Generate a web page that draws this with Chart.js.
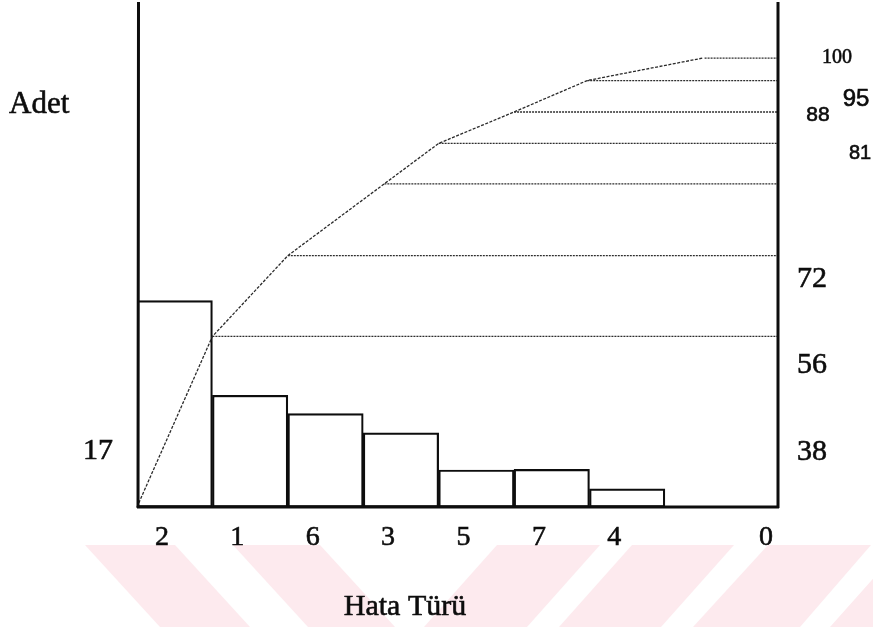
<!DOCTYPE html>
<html>
<head>
<meta charset="utf-8">
<script src="https://cdn.jsdelivr.net/npm/chart.js@4/dist/chart.umd.min.js"></script>
<style>
  html, body { margin: 0; padding: 0; background: #fff; }
  canvas { display: block; }
</style>
</head>
<body>
<canvas id="pareto" width="873" height="627"></canvas>
<script>
// Hata türleri (Pareto sırası) ve adetleri
const categories = ['2', '1', '6', '3', '5', '7', '4', '0'];
const counts = [17, 9.2, 7.7, 6.1, 3.05, 3.1, 1.5, 0];

// Kümülatif yüzde eğrisi: her noktanın konumu (kategori ekseninde) ve değeri
const cumulativeAt = [0, 1, 2, 3.28, 4, 5, 5.97, 7.5];
const cumulativePct = [0, 38, 56, 72, 81, 88, 95, 100];

// Eksen yazıları
const countAxisTitle = 'Adet';
const countAxisLabel = '17';
const categoryAxisTitle = 'Hata Türü';
const pctAxisLabels = ['100', '95', '88', '81', '72', '56', '38'];

// Yazı yerleşimi ve biçimleri
const SERIF = '"Liberation Serif", "Times New Roman", serif';
const SANS = '"Liberation Sans", Arial, sans-serif';
const pctLabelStyle = {
  '100': { x: 837, y: 63,  font: '20px ' + SERIF },
  '95':  { x: 856, y: 106, font: '24px ' + SANS },
  '88':  { x: 818, y: 121, font: '21px ' + SANS },
  '81':  { x: 860, y: 159, font: '20px ' + SANS },
  '72':  { x: 812, y: 287, font: '30px ' + SERIF },
  '56':  { x: 812, y: 373, font: '30px ' + SERIF },
  '38':  { x: 812, y: 460, font: '30px ' + SERIF }
};
const X_MAX = 8.5;
const INK = '#0d0d0d';

// Alt kısımdaki açık pembe çapraz şeritler
const bandTop = 545;
const bands = [
  [[85, 175], [160, 250]],
  [[233, 320], [308, 395]],
  [[497, 600], [424, 527]],
  [[632, 734], [559, 661]],
  [[768, 871], [693, 800]],
  [[903, 973], [830, 900]]
];

const backdrop = {
  id: 'backdrop',
  beforeDraw(chart) {
    const c = chart.ctx;
    c.save();
    c.fillStyle = '#fff';
    c.fillRect(0, 0, chart.width, chart.height);
    c.fillStyle = 'rgb(253, 234, 238)';
    const bottom = chart.height;
    bands.forEach(([top, bot]) => {
      c.beginPath();
      c.moveTo(top[0], bandTop);
      c.lineTo(top[1], bandTop);
      c.lineTo(bot[1], bottom);
      c.lineTo(bot[0], bottom);
      c.closePath();
      c.fill();
    });
    c.restore();
  }
};

// slightly heavy text, like a printed page
function inkText(c, text, x, y) {
  c.fillText(text, x, y);
  c.strokeText(text, x, y);
}

const frame = {
  id: 'frame',
  afterDatasetsDraw(chart) {
    const c = chart.ctx;
    const a = chart.chartArea;
    const meta = chart.getDatasetMeta(0);
    c.save();
    // kümülatif noktalardan sağ eksene yatay kılavuzlar
    c.strokeStyle = '#2e2e2e';
    c.lineWidth = 1.3;
    c.setLineDash([2, 1]);
    meta.data.forEach((pt, i) => {
      if (i === 0) return;
      const gap = i === meta.data.length - 1 ? 2 : 0;
      c.beginPath();
      c.moveTo(pt.x + gap, pt.y);
      c.lineTo(a.right, pt.y);
      c.stroke();
    });
    c.setLineDash([]);
    // eksen çizgileri
    c.strokeStyle = INK;
    c.lineWidth = 3;
    c.beginPath();
    c.moveTo(a.left + 1.5, a.top);
    c.lineTo(a.left + 1, a.bottom + 1);
    c.moveTo(a.right, a.top);
    c.lineTo(a.right, a.bottom + 1);
    c.moveTo(a.left, a.bottom);
    c.lineTo(a.right + 1, a.bottom);
    c.stroke();
    c.restore();
  },
  afterDraw(chart) {
    const c = chart.ctx;
    const a = chart.chartArea;
    const xs = chart.scales.x;
    c.save();
    c.fillStyle = INK;
    c.strokeStyle = INK;
    c.lineWidth = 0.6;
    c.textBaseline = 'alphabetic';

    c.font = '31px ' + SERIF;
    c.textAlign = 'left';
    inkText(c, countAxisTitle, 9, 113);

    c.font = '30px ' + SERIF;
    c.textAlign = 'center';
    inkText(c, countAxisLabel, 98, 459);

    c.font = '28px ' + SERIF;
    categories.forEach((lab, i) => {
      const v = i === categories.length - 1 ? X_MAX - 0.16 : i + 0.33;
      inkText(c, lab, xs.getPixelForValue(v), a.bottom + 38);
    });

    c.font = '30px ' + SERIF;
    inkText(c, categoryAxisTitle, 405, 615);

    pctAxisLabels.forEach(lab => {
      const s = pctLabelStyle[lab];
      c.font = s.font;
      inkText(c, lab, s.x, s.y);
    });
    c.restore();
  }
};

new Chart(document.getElementById('pareto'), {
  type: 'bar',
  data: {
    datasets: [
      {
        type: 'line',
        data: cumulativeAt.map((x, i) => ({ x, y: cumulativePct[i] })),
        xAxisID: 'x',
        yAxisID: 'yPct',
        borderColor: '#2a2a2a',
        borderWidth: 1.3,
        borderDash: [3, 1.5],
        pointRadius: 0,
        tension: 0,
        fill: false,
        clip: false,
        order: 0
      },
      {
        type: 'bar',
        data: counts.map((y, i) => ({ x: i + 0.5, y })),
        xAxisID: 'x',
        yAxisID: 'yCount',
        backgroundColor: '#fff',
        borderColor: INK,
        borderWidth: 2.2,
        borderSkipped: false,
        barPercentage: 1,
        categoryPercentage: 1,
        order: 1
      }
    ]
  },
  options: {
    responsive: false,
    animation: false,
    devicePixelRatio: 1,
    layout: { padding: { left: 137, right: 95, top: 2, bottom: 120 } },
    plugins: { legend: { display: false }, tooltip: { enabled: false } },
    scales: {
      x: {
        type: 'linear', min: 0, max: X_MAX, offset: false, display: false,
        // one tick per category keeps each bar a full category wide
        afterBuildTicks: s => { s.ticks = categories.map((_, i) => ({ value: i + 0.5 })); }
      },
      yCount: { type: 'linear', position: 'left', min: 0, max: 41.6, display: false },
      yPct: { type: 'linear', position: 'right', min: 0, max: 112.5, display: false }
    }
  },
  plugins: [backdrop, frame]
});
</script>
</body>
</html>
